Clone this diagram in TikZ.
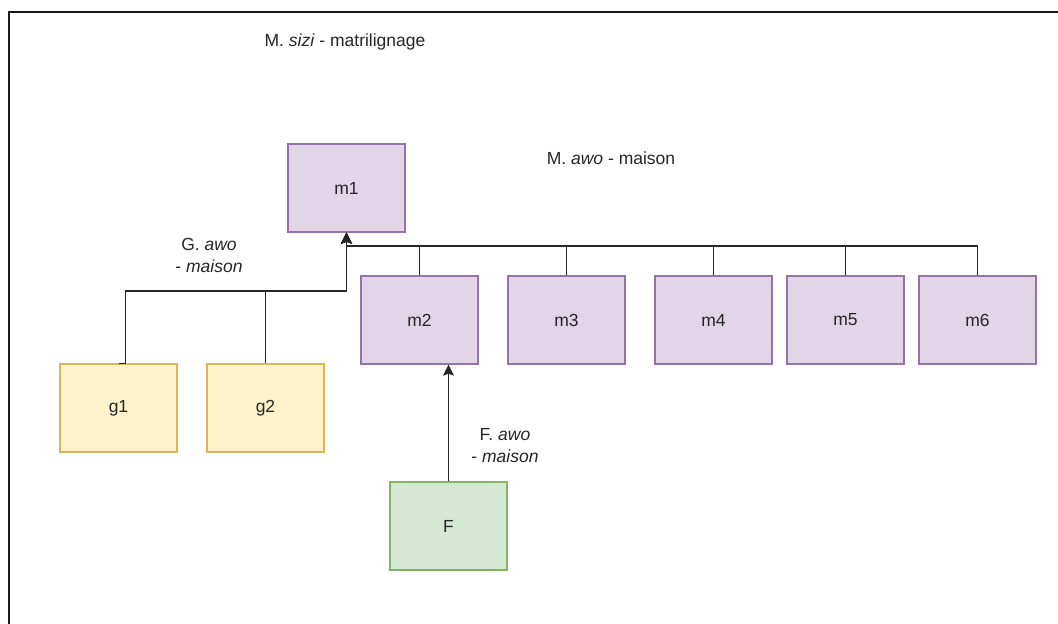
\documentclass[tikz,border=0pt]{standalone}
\usepackage{fontspec}
\setmainfont{Liberation Sans}
\usetikzlibrary{arrows.meta}
\definecolor{pfill}{HTML}{E1D5E7}
\definecolor{pdraw}{HTML}{9673A6}
\definecolor{yfill}{HTML}{FFF2CC}
\definecolor{ydraw}{HTML}{D6B656}
\definecolor{gfill}{HTML}{D5E8D4}
\definecolor{gdraw}{HTML}{82B366}
\begin{document}
\begin{tikzpicture}[x=1pt,y=-1pt,
  every node/.style={font=\fontsize{17.5}{22}\selectfont, text=black!85},
  box/.style={minimum width=117pt, minimum height=88pt, inner sep=0pt, line width=1.3pt},
  pbox/.style={box, fill=pfill, draw=pdraw},
  ybox/.style={box, fill=yfill, draw=ydraw},
  gbox/.style={box, fill=gfill, draw=gdraw},
  conn/.style={draw=black!85, line width=1.5pt},
  arr/.style={conn, -{Stealth[length=11pt,width=11pt,inset=2pt]}},
  lbl/.style={align=center, inner sep=1pt}]
\useasboundingbox (0,0) rectangle (1058,624);
\draw[line width=2pt, black!90] (9,624) -- (9,11.5) -- (1058,11.5);

\node[pbox] (m1) at (346.5,188) {m1};
\node[pbox] (m2) at (419.5,320) {m2};
\node[pbox] (m3) at (566.5,320) {m3};
\node[pbox] (m4) at (713.5,320) {m4};
\node[pbox] (m5) at (845.5,320) {m5};
\node[pbox] (m6) at (977.5,320) {m6};
\node[ybox] (g1) at (118.5,408) {g1};
\node[ybox] (g2) at (265.5,408) {g2};
\node[gbox] (F) at (448.5,526) {F};

\coordinate (bus) at (346.5,246);
\coordinate (gbus) at (346.5,291);

\foreach \m in {m6,m5,m4,m3,m2}{
  \draw[arr] (\m.north) |- (bus) -- (m1.south);
}
\draw[arr] (g1.north) -- ++(7,0) |- (gbus) -- (m1.south);
\draw[arr] (g2.north) |- (gbus) -- (m1.south);
\draw[arr] (F.north) -- (F.north |- m2.south);

\node[lbl] (t1) at (345,42) {M. \textit{sizi} - matrilignage};
\node[lbl] (t2) at (611,158) {M. \textit{awo} - maison};
\node[lbl] (t3) at (209,255) {G. \textit{awo}\\- \textit{maison}};
\node[lbl] (t4) at (505,446) {F. \textit{awo}\\- \textit{maison}};
\end{tikzpicture}
\end{document}
